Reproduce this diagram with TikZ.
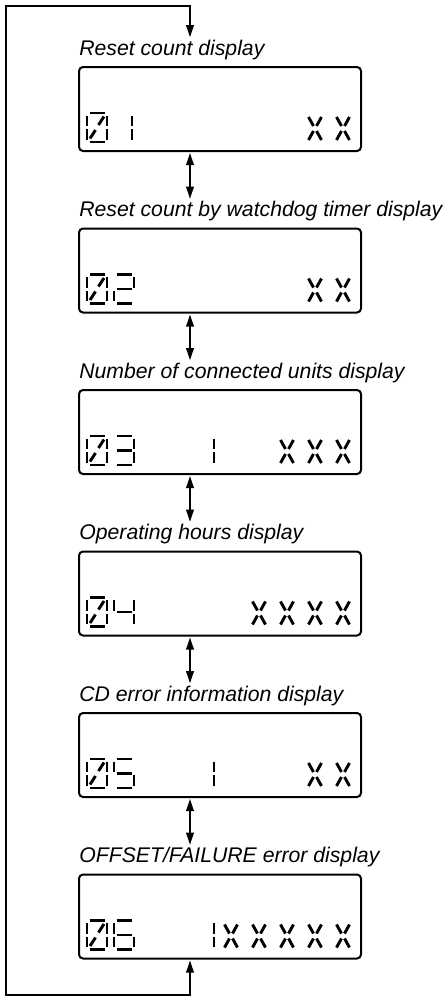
\documentclass[tikz,border=0pt]{standalone}
\usepackage{fontspec}
\setmainfont{Liberation Sans}
\usetikzlibrary{positioning,arrows.meta}

% segment lists of the LCD cells: x1/y1/x2/y2 in a 20x29 cell, y down
\def\segzero{2.5/0/17.5/0,20/2.5/20/13,20/16/20/26.5,2.5/29/17.5/29,0/16/0/26.5,0/2.5/0/13,17/3.5/11.5/12,8.5/17/3/25.5}
\def\segone{20/2.5/20/13,20/16/20/26.5}
\def\segtwo{2.5/0/17.5/0,20/2.5/20/13,2.5/14.5/17.5/14.5,0/16/0/26.5,2.5/29/17.5/29}
\def\segthree{2.5/0/17.5/0,20/2.5/20/13,2.5/14.5/17.5/14.5,20/16/20/26.5,2.5/29/17.5/29}
\def\segfour{0/2.5/0/13,2.5/14.5/17.5/14.5,20/2.5/20/13,20/16/20/26.5}
\def\segfive{2.5/0/17.5/0,0/2.5/0/13,2.5/14.5/17.5/14.5,20/16/20/26.5,2.5/29/17.5/29}
\def\segsix{2.5/0/17.5/0,0/2.5/0/13,2.5/14.5/17.5/14.5,0/16/0/26.5,20/16/20/26.5,2.5/29/17.5/29}
\def\segx{0.5/4/5.5/13,13.5/4/8.5/13,5.5/18/0.5/27,8.5/18/13.5/27}

\newcommand{\lcdchar}[3]{%
  \begin{scope}[shift={(#1,#2)}]
    \foreach \xa/\ya/\xb/\yb in #3 {\draw[seg] (\xa,\ya) -- (\xb,\yb);}
  \end{scope}}

\begin{document}
\begin{tikzpicture}[x=0.5pt,y=-0.5pt,node distance=38.75pt,
    lcd/.style={draw,line width=1pt,rounded corners=2pt,minimum width=141pt,
      minimum height=42pt,outer sep=0pt,inner sep=0pt},
    title/.style={anchor=base west,inner sep=0pt,
      font=\fontsize{10.6}{12}\selectfont\itshape},
    seg/.style={line width=1.45pt},
    link/.style={line width=0.75pt,shorten >=1pt,shorten <=1pt,
      arrows={Triangle[length=6pt,width=3.8pt]-Triangle[length=6pt,width=3.8pt]}}]

    \useasboundingbox (0,0) rectangle (447,998);

    % Define displays
    \node[lcd] (d1) at (220,109) {};
    \node[lcd] (d2) [below=of d1] {};
    \node[lcd] (d3) [below=of d2] {};
    \node[lcd] (d4) [below=of d3] {};
    \node[lcd] (d5) [below=of d4] {};
    \node[lcd] (d6) [below=of d5] {};

    % Define titles
    \node[title] (l1) at ([yshift=6pt]d1.north west) {Reset count display};
    \node[title] (l2) at ([yshift=6pt]d2.north west) {Reset count by watchdog timer display};
    \node[title] (l3) at ([yshift=6pt]d3.north west) {Number of connected units display};
    \node[title] (l4) at ([yshift=6pt]d4.north west) {Operating hours display};
    \node[title] (l5) at ([yshift=6pt]d5.north west) {CD error information display};
    \node[title] (l6) at ([yshift=6pt]d6.north west) {OFFSET/FAILURE error display};

    % Display contents
    \begin{scope}[shift={(d1.north west)}]
      \lcdchar{8}{46}{\segzero} \lcdchar{33}{46}{\segone}
      \lcdchar{229}{46}{\segx} \lcdchar{257}{46}{\segx}
    \end{scope}
    \begin{scope}[shift={(d2.north west)}]
      \lcdchar{8}{46}{\segzero} \lcdchar{35}{46}{\segtwo}
      \lcdchar{229}{46}{\segx} \lcdchar{257}{46}{\segx}
    \end{scope}
    \begin{scope}[shift={(d3.north west)}]
      \lcdchar{8}{46}{\segzero} \lcdchar{35}{46}{\segthree}
      \lcdchar{115}{46}{\segone}
      \lcdchar{201}{46}{\segx} \lcdchar{229}{46}{\segx} \lcdchar{257}{46}{\segx}
    \end{scope}
    \begin{scope}[shift={(d4.north west)}]
      \lcdchar{8}{46}{\segzero} \lcdchar{35}{46}{\segfour}
      \lcdchar{173}{46}{\segx} \lcdchar{201}{46}{\segx}
      \lcdchar{229}{46}{\segx} \lcdchar{257}{46}{\segx}
    \end{scope}
    \begin{scope}[shift={(d5.north west)}]
      \lcdchar{8}{46}{\segzero} \lcdchar{35}{46}{\segfive}
      \lcdchar{115}{46}{\segone}
      \lcdchar{229}{46}{\segx} \lcdchar{257}{46}{\segx}
    \end{scope}
    \begin{scope}[shift={(d6.north west)}]
      \lcdchar{8}{46}{\segzero} \lcdchar{35}{46}{\segsix}
      \lcdchar{115}{46}{\segone}
      \lcdchar{145}{46}{\segx} \lcdchar{173}{46}{\segx} \lcdchar{201}{46}{\segx}
      \lcdchar{229}{46}{\segx} \lcdchar{257}{46}{\segx}
    \end{scope}

    % Draw edges
    \foreach \a/\b in {d1/l2,d2/l3,d3/l4,d4/l5,d5/l6}
      \draw[link] ([xshift=-15pt]\a.south) -- ([xshift=-15pt]\a.south |- \b.north);

    \coordinate (loop bot) at (6,995);
    \coordinate (loop top) at (6,6);
    \draw[link] ([xshift=-15pt]d6.south) |- (loop bot) -- (loop top)
      -| ([xshift=-15pt]d1.south |- l1.north);

\end{tikzpicture}
\end{document}
